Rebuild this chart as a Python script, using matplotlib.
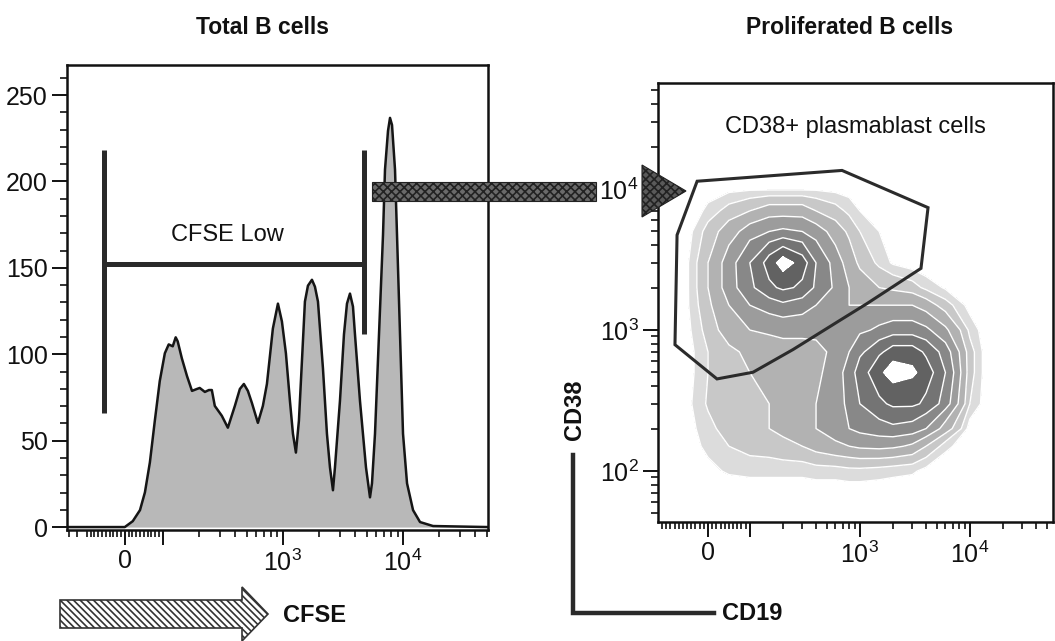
import numpy as np
import matplotlib
matplotlib.use("Agg")
import matplotlib.pyplot as plt
from matplotlib.patches import Polygon
from matplotlib.lines import Line2D
from matplotlib.ticker import NullFormatter, LogLocator

FONT = ['Liberation Sans', 'DejaVu Sans']
plt.rcParams['font.family'] = FONT
plt.rcParams['mathtext.fontset'] = 'custom'
plt.rcParams['mathtext.rm'] = 'Liberation Sans'
plt.rcParams['mathtext.it'] = 'Liberation Sans'
plt.rcParams['mathtext.bf'] = 'Liberation Sans:bold'
plt.rcParams['hatch.linewidth'] = 1.2

# ---------------- CFSE histogram (total B cells) ----------------
cfse = [-146, -26, 0, 21, 40, 53, 66, 79, 92, 104, 112, 121, 128, 133, 144,
        159, 175, 192, 203, 224, 242, 256, 271, 310, 348, 398, 438, 473, 511,
        552, 619, 681, 736, 825, 909, 981, 1059, 1144, 1212, 1283, 1359, 1440,
        1525, 1616, 1745, 1848, 1958, 2154, 2326, 2465, 2610, 2712, 2985, 3224,
        3415, 3617, 3831, 3981, 4382, 4917, 5309, 5516, 5844, 6310, 6813, 7079,
        7499, 7794, 8098, 8577, 8913, 9441, 10000, 10800, 12120, 13860, 17780,
        51000]
counts = [0, 0, 0, 3.4, 9.8, 20.1, 37.4, 61.5, 84.5, 100.6, 105.7, 104.6,
          109.8, 107.5, 97.7, 87.4, 78.8, 79.9, 80.5, 78.2, 79.3, 79.3, 70.1,
          64.4, 57.5, 70.1, 79.9, 82.8, 78.8, 71.8, 60.3, 70.1, 82.8, 114.9,
          129.3, 119.0, 100.6, 73.0, 54.0, 43.1, 61.5, 96.0, 130.5, 139.7,
          143.1, 139.1, 130.5, 92.0, 54.0, 34.5, 21.3, 34.5, 73.0, 111.5, 129.3,
          135.1, 127.6, 111.5, 73.0, 34.5, 17.2, 25.3, 54.0, 111.5, 169.0,
          206.9, 229.3, 236.8, 232.7, 206.9, 169.0, 111.5, 54.0, 25.3, 9.8,
          2.9, 0.6, 0]

count_ticks = [0, 50, 100, 150, 200, 250]
log_tick_values = [0, 100, 1000, 10000]
log_tick_labels = ['0', '', r'$10^3$', r'$10^4$']

# "CFSE Low" gate
gate_bounds = [-55, 4730]
gate_level = 152
gate_left_span = [66, 218]
gate_right_span = [112, 218]

# ---------------- CD19 / CD38 density (proliferated B cells) ----------------
cd19_grid = [-100, -50, 0, 50, 100, 150, 200, 300, 400, 600, 800, 1000,
             1500, 2000, 3000, 4000, 6000, 10000, 15000]
cd38_grid = [60, 100, 150, 200, 300, 500, 700, 1000, 1500, 2000, 3000, 5000,
             7000, 10000, 15000]
density = [
    [0, 0, 0, 0, 0, 0, 0, 0, 0, 0, 0, 0, 0, 0, 0, 0, 0, 0, 0],
    [0, 0, 0.4, 0.7, 0.8, 0.8, 0.8, 0.8, 0.9, 0.9, 1.0, 1.0, 0.9, 0.8, 0.7, 0.4, 0.1, 0, 0],
    [0, 0.2, 0.8, 1.2, 1.5, 1.6, 1.8, 2.0, 2.4, 2.8, 3.0, 3.2, 3.3, 3.2, 2.8, 2.0, 0.8, 0, 0],
    [0, 0.3, 1.0, 1.5, 1.8, 2.0, 2.2, 2.5, 3.0, 3.5, 4.0, 4.3, 4.6, 4.8, 4.6, 4.0, 2.5, 0.3, 0],
    [0, 0.4, 1.3, 1.8, 2.0, 2.0, 2.2, 2.5, 3.0, 3.5, 4.3, 5.0, 5.8, 6.2, 6.2, 5.8, 4.5, 1.2, 0],
    [0, 0.3, 1.2, 1.8, 2.0, 2.2, 2.2, 2.5, 2.8, 3.5, 4.5, 5.5, 6.8, 7.5, 7.2, 6.5, 5.0, 1.5, 0],
    [0, 0.3, 1.2, 1.8, 2.2, 2.4, 2.6, 2.6, 2.8, 3.2, 4.0, 4.8, 5.8, 6.5, 6.5, 5.8, 4.5, 1.5, 0],
    [0, 0.4, 1.5, 2.5, 3.0, 3.2, 3.3, 3.3, 3.2, 3.3, 3.5, 3.8, 4.2, 4.5, 4.5, 4.2, 3.2, 1.0, 0],
    [0, 0.5, 1.8, 3.0, 4.0, 4.5, 4.8, 4.5, 4.0, 3.5, 3.0, 3.0, 3.0, 3.0, 3.0, 2.5, 1.5, 0.3, 0],
    [0, 0.5, 2.0, 3.5, 4.8, 5.8, 6.2, 5.8, 4.8, 3.8, 3.0, 2.5, 2.0, 1.8, 1.5, 1.0, 0.5, 0, 0],
    [0, 0.5, 2.0, 3.5, 5.0, 6.5, 7.5, 6.5, 5.0, 3.5, 2.5, 1.8, 1.0, 0.5, 0.2, 0, 0, 0, 0],
    [0, 0.3, 1.5, 2.5, 3.5, 4.0, 4.2, 4.0, 3.5, 2.5, 1.8, 1.2, 0.6, 0.3, 0, 0, 0, 0, 0],
    [0, 0, 0.8, 1.5, 2.0, 2.5, 2.5, 2.5, 2.0, 1.5, 1.0, 0.6, 0.3, 0, 0, 0, 0, 0, 0],
    [0, 0, 0.2, 0.4, 0.5, 0.5, 0.5, 0.5, 0.5, 0.4, 0.3, 0.2, 0, 0, 0, 0, 0, 0, 0],
    [0, 0, 0, 0, 0, 0, 0, 0, 0, 0, 0, 0, 0, 0, 0, 0, 0, 0, 0],
]
density_levels = [0.6, 1.2, 2.0, 3.0, 4.0, 5.0, 6.0, 7.0, 100]
density_colors = ['#dcdcdc', '#c8c8c8', '#b2b2b2', '#9c9c9c', '#888888',
                  '#747474', '#626262', '#ffffff']

# CD38+ plasmablast gate vertices
gate_cd19 = [-26, 689, 4169, 3597, 1161, 661, 247, 107, 21.5, -79, -74]
gate_cd38 = [11360, 13550, 7380, 2738, 1540, 1173, 727, 502, 450, 787, 4720]

W, H = 1055, 641
fig = plt.figure(figsize=(W / 100, H / 100), dpi=100)


def frac(left, top, right, bottom):
    return [left / W, 1 - bottom / H, (right - left) / W, (bottom - top) / H]


def style_frame(ax):
    for sp in ax.spines.values():
        sp.set_linewidth(1.8)
        sp.set_color('#111111')
    ax.tick_params(which='major', direction='out', length=11, width=1.4,
                   labelsize=18, colors='#111111', pad=3)
    ax.tick_params(which='minor', direction='out', length=5, width=1.2,
                   colors='#111111')


# ---- left panel ----
ax1 = fig.add_axes(frac(67, 65, 488, 530))
ax1.set_xscale('symlog', linthresh=100, linscale=0.285)
ax1.set_xlim(-146, 51000)
ax1.set_ylim(-1.7, 267.4)
ax1.fill_between(cfse, counts, 0, color='#b8b8b8', linewidth=0, zorder=1)
ax1.plot(cfse, counts, color='#151515', lw=1.8, zorder=2)

ax1.set_yticks(count_ticks)
ax1.set_yticks(np.arange(0, 270, 10), minor=True)
ax1.set_xticks(log_tick_values)
ax1.set_xticklabels(log_tick_labels)
minor_x = ([-140, -120] + list(range(-100, 0, 10)) + list(range(10, 100, 10)) +
           list(range(200, 1000, 100)) + list(range(2000, 10000, 1000)) +
           list(range(20000, 60000, 10000)))
ax1.set_xticks(minor_x, minor=True)
ax1.xaxis.set_minor_formatter(NullFormatter())
style_frame(ax1)

gate_kw = dict(color='#2a2a2a', lw=3.6, solid_capstyle='butt', zorder=3)
ax1.plot([gate_bounds[0]] * 2, gate_left_span, **gate_kw)
ax1.plot([gate_bounds[1]] * 2, gate_right_span, **gate_kw)
ax1.plot(gate_bounds, [gate_level] * 2, **gate_kw)
ax1.text(348, 169, 'CFSE Low', ha='center', va='center', fontsize=17,
         color='#111111')

# ---- right panel ----
ax2 = fig.add_axes(frac(658, 83, 1053, 522))
ax2.set_xscale('symlog', linthresh=100, linscale=0.342)
ax2.set_yscale('log')
ax2.set_xlim(-118.7, 57000)
ax2.set_ylim(43.5, 56500)

X, Y = np.meshgrid(cd19_grid, cd38_grid)
Z = np.array(density)
ax2.contourf(X, Y, Z, levels=density_levels, colors=density_colors, zorder=1)
ax2.contour(X, Y, Z, levels=density_levels[:-1], colors='white',
            linewidths=1.0, zorder=2)

ax2.add_patch(Polygon(np.column_stack([gate_cd19, gate_cd38]), closed=True,
                      fill=False, edgecolor='#2b2b2b', lw=2.2, zorder=3))
ax2.text(0.5, 0.899, 'CD38+ plasmablast cells', transform=ax2.transAxes,
         ha='center', va='center', fontsize=17, color='#111111')

ax2.set_xticks(log_tick_values)
ax2.set_xticklabels(log_tick_labels)
minor_x2 = (list(range(-110, 0, 10)) + list(range(10, 100, 10)) +
            list(range(200, 1000, 100)) + list(range(2000, 10000, 1000)) +
            list(range(20000, 60000, 10000)))
ax2.set_xticks(minor_x2, minor=True)
ax2.xaxis.set_minor_formatter(NullFormatter())
ax2.set_yticks([100, 1000, 10000])
ax2.set_yticklabels([r'$10^2$', r'$10^3$', r'$10^4$'])
ax2.yaxis.set_minor_locator(LogLocator(base=10, subs=np.arange(2, 10)))
ax2.yaxis.set_minor_formatter(NullFormatter())
style_frame(ax2)

# ---- overlay in pixel coordinates for arrows and captions ----
ov = fig.add_axes([0, 0, 1, 1])
ov.set_xlim(0, W)
ov.set_ylim(H, 0)
ov.axis('off')
ov.patch.set_alpha(0)

ov.text(262, 28, 'Total B cells', ha='center', va='center', fontsize=16.5,
        fontweight='bold', color='#111111')
ov.text(850, 28, 'Proliferated B cells', ha='center', va='center',
        fontsize=16.5, fontweight='bold', color='#111111')

# arrow from the CFSE-low gate to the CD19/CD38 plot
ov.add_patch(Polygon([(372, 182), (596, 182), (596, 201), (372, 201)],
                     closed=True, facecolor='#6a6a6a', edgecolor='#222222',
                     hatch='xxxx', lw=0.8, zorder=5))
ov.add_patch(Polygon([(642, 165), (686, 191), (642, 217)], closed=True,
                     facecolor='#5a5a5a', edgecolor='#222222', hatch='xxxx',
                     lw=0.8, zorder=5))

# CFSE direction arrow
ov.add_patch(Polygon([(60, 600), (242, 600), (242, 587), (268, 614),
                      (242, 641), (242, 628), (60, 628)], closed=True,
                     facecolor='white', edgecolor='#333333',
                     hatch='\\\\\\\\\\', lw=1.2, zorder=5))
ov.text(315, 615, 'CFSE', ha='center', va='center', fontsize=17,
        fontweight='bold', color='#111111')

# CD19 / CD38 axis key
ov.add_line(Line2D([573, 573, 714], [455, 613, 613], color='#2a2a2a', lw=3.2,
                   solid_joinstyle='miter'))
ov.text(575, 410, 'CD38', rotation=90, ha='center', va='center', fontsize=17,
        fontweight='bold', color='#111111')
ov.text(752, 613, 'CD19', ha='center', va='center', fontsize=17,
        fontweight='bold', color='#111111')

fig.savefig('out.png', dpi=100)
